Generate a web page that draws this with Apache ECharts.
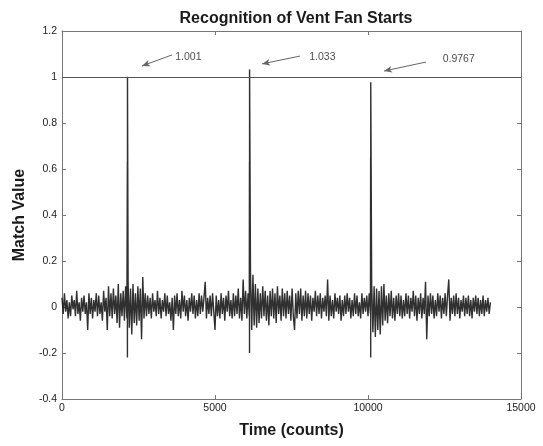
<!DOCTYPE html>
<html>
<head>
<meta charset="utf-8">
<script src="https://cdn.jsdelivr.net/npm/echarts@6/dist/echarts.min.js"></script>
<style>
html,body{margin:0;padding:0;background:#fff;}
#chart{width:543px;height:446px;}
</style>
</head>
<body>
<div id="chart"></div>
<script>
// ---- data ----
const titleText = 'Recognition of Vent Fan Starts';
const xAxisName = 'Time (counts)';
const yAxisName = 'Match Value';
const xTicks = [0, 5000, 10000, 15000];
const yTicks = [-0.4, -0.2, 0, 0.2, 0.4, 0.6, 0.8, 1, 1.2];
const thresholdValue = 1;

// match value noise, sampled every 40 counts starting at 0, in hundredths
const noiseStepCounts = 40;
const noiseHundredths = [
  4,-3,6,-2,3,-5,2,-4,5,-1,
  3,-4,7,-3,2,-6,4,-2,5,-3,
  2,-10,6,-3,4,-5,3,-2,6,-4,
  5,-3,2,-6,7,-2,4,-10,9,-4,
  6,-5,8,-3,5,-7,10,-9,6,-4,
  7,-6,9,-5,11,-9,8,-12,10,-7,
  6,-8,9,-6,8,-14,13,-5,6,-4,
  5,-3,4,-5,6,-2,3,-4,7,-3,
  4,-5,3,-2,6,-4,5,-3,2,-6,
  4,-10,5,-3,6,-4,3,-5,7,-2,
  5,-4,3,-6,4,-2,6,-3,5,-5,
  3,-4,6,-3,5,-2,4,11,-5,4,
  -3,5,-4,6,-2,-10,5,-4,3,-5,
  6,-3,4,-6,5,-2,7,-4,3,-5,
  6,-4,5,-3,8,-5,4,-6,12,-3,
  7,-5,6,-4,15,-10,14,-8,10,-9,
  8,-7,6,-5,9,-4,7,-6,5,-8,
  7,-4,8,-5,6,-7,9,-3,5,-6,
  8,-4,6,-5,7,-3,5,-6,8,-4,
  -10,6,-5,7,-3,8,-6,5,-4,7,
  -5,6,-3,5,-6,4,-2,7,-4,5,
  -3,6,-5,4,-2,5,-4,12,-6,5,
  -4,3,-5,6,-2,4,-3,5,-6,3,
  -4,5,-3,6,-2,4,-5,3,-4,6,
  -3,5,-4,2,-5,6,-3,4,-2,5,
  -4,6,-3,10,-11,9,-13,8,-10,7,
  -12,9,-8,10,-6,5,-7,6,-4,7,
  -5,4,-6,5,-3,6,-4,5,-5,3,
  -4,6,-3,5,-5,4,-2,7,-4,5,
  -6,4,-3,6,-5,4,-3,11,-14,5,
  -4,6,-3,5,-5,3,-4,6,-2,5,
  -5,4,-3,6,-4,5,12,-6,4,-3,
  5,-4,6,-3,4,-5,3,-2,5,-4,
  4,-3,5,-4,3,-5,4,-2,5,-3,
  4,-4,3,-3,5,-4,3,-2,4,-3,
  2
];

// fan-start events
const startCounts = [2140, 6130, 10090];
const startPeak = [1.001, 1.033, 0.9767];
const startSecondPeak = [0.63, 0.63, 0.65];
const startDip = [-0.22, -0.2, -0.22];
const startLabels = ['1.001', '1.033', '0.9767'];

// ---- layout (annotation placement, in axis units) ----
const arrowTail = [[3595, 1.096], [7778, 1.091], [11895, 1.065]];
const arrowHead = [[2614, 1.048], [6536, 1.057], [10523, 1.026]];
const labelAnchor = [[3700, 1.087], [8080, 1.087], [12440, 1.078]];

// ---- build series data ----
const signal = [];
let ev = 0;
for (let i = 0; i < noiseHundredths.length; i++) {
  const x = i * noiseStepCounts;
  while (ev < startCounts.length && startCounts[ev] < x) {
    signal.push([startCounts[ev] - 4, startSecondPeak[ev]]);
    signal.push([startCounts[ev] - 2, startDip[ev]]);
    signal.push([startCounts[ev], startPeak[ev]]);
    ev++;
  }
  signal.push([x, noiseHundredths[i] / 100]);
}

const font = "'Liberation Sans', Arial, sans-serif";
const arrows = arrowTail.map((t, k) => [
  { coord: t, symbol: 'none' },
  { coord: arrowHead[k], symbol: 'arrow', symbolSize: [5, 8] }
]);
const plainNum = (v) => String(Math.round(v * 1000) / 1000);

const axisCommon = {
  axisLine: { show: true, onZero: false, lineStyle: { color: '#777', width: 1 } },
  axisTick: { show: true, inside: true, length: 4, lineStyle: { color: '#777' } },
  splitLine: { show: false }
};

const chart = echarts.init(document.getElementById('chart'), null, { renderer: 'canvas' });
chart.setOption({
  animation: false,
  backgroundColor: '#fff',
  title: {
    text: titleText,
    left: 291, top: 6, textAlign: 'center',
    textStyle: { fontFamily: font, fontSize: 16, fontWeight: 'bold', color: '#1a1a1a' }
  },
  grid: { left: 62, right: 22, top: 31, bottom: 47 },
  xAxis: [Object.assign({
    type: 'value', min: xTicks[0], max: xTicks[xTicks.length - 1], interval: 5000,
    name: xAxisName, nameLocation: 'middle', nameGap: 24,
    nameTextStyle: { fontFamily: font, fontSize: 16, fontWeight: 'bold', color: '#1a1a1a' },
    axisLabel: { fontFamily: font, fontSize: 10.5, color: '#222', margin: 4, formatter: plainNum }
  }, axisCommon), Object.assign({
    type: 'value', position: 'top', min: xTicks[0], max: xTicks[xTicks.length - 1], interval: 5000,
    axisLabel: { show: false }
  }, axisCommon)],
  yAxis: [Object.assign({
    type: 'value', min: yTicks[0], max: yTicks[yTicks.length - 1], interval: 0.2,
    name: yAxisName, nameLocation: 'middle', nameGap: 32, nameRotate: 90,
    nameTextStyle: { fontFamily: font, fontSize: 16, fontWeight: 'bold', color: '#1a1a1a' },
    axisLabel: { fontFamily: font, fontSize: 10.5, color: '#222', margin: 5, formatter: plainNum }
  }, axisCommon), Object.assign({
    type: 'value', position: 'right', min: yTicks[0], max: yTicks[yTicks.length - 1], interval: 0.2,
    axisLabel: { show: false }
  }, axisCommon)],
  series: [{
    type: 'line',
    data: signal,
    showSymbol: false,
    symbol: 'none',
    sampling: null,
    lineStyle: { color: '#1a1a1a', width: 1.4, opacity: 0.9 },
    markLine: {
      silent: true,
      symbol: 'none',
      label: { show: false },
      data: [
        [{ coord: [xTicks[0], thresholdValue], symbol: 'none', lineStyle: { color: '#555', width: 1, type: 'solid' } },
         { coord: [xTicks[xTicks.length - 1], thresholdValue], symbol: 'none' }]
      ].concat(arrows),
      lineStyle: { color: '#666', width: 1, type: 'solid' },
      itemStyle: { color: '#222' }
    }
  }, {
    type: 'scatter',
    data: labelAnchor.map((p, k) => ({ value: p, name: startLabels[k] })),
    symbolSize: 0,
    silent: true,
    label: {
      show: true, position: 'right', distance: 0,
      formatter: (p) => p.name,
      fontFamily: font, fontSize: 10.5, color: '#222'
    }
  }]
});
</script>
</body>
</html>
